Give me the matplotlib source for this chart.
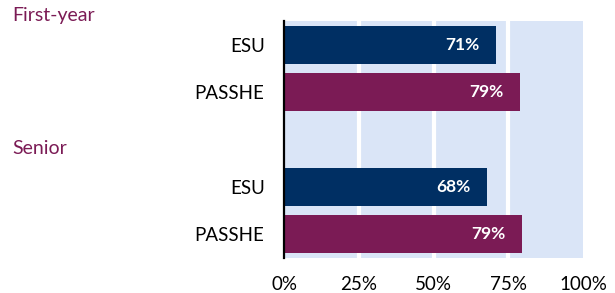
import matplotlib.pyplot as plt

plt.rcParams['font.family'] = ['Lato', 'DejaVu Sans']

# data
groups = ['First-year', 'Senior']
schools = ['ESU', 'PASSHE', 'ESU', 'PASSHE']
values = [71, 79, 68, 79.7]
value_labels = ['71%', '79%', '68%', '79%']
xticks = [0, 25, 50, 75, 100]
xtick_labels = ['0%', '25%', '50%', '75%', '100%']

navy = '#002f63'
maroon = '#7b1b55'
colors = [navy, maroon, navy, maroon]
ypos = [0, 1, 3, 4]

fig = plt.figure(figsize=(6.15, 2.93), dpi=100)
ax = fig.add_axes([284 / 615, 1 - 258 / 293, 299 / 615, 237 / 293])

ax.set_facecolor('#dae5f7')
ax.barh(ypos, values, height=0.8, color=colors, zorder=3)
for x in xticks[1:-1]:
    ax.axvline(x, color='white', lw=3, zorder=2)

for y, v, lab in zip(ypos, values, value_labels):
    ax.text(v - 5.5, y, lab, ha='right', va='center', color='white',
            fontsize=12.5, fontweight='bold', zorder=4)

ax.set_xlim(0, 100)
ax.set_ylim(4.5, -0.5)
ax.set_yticks(ypos)
ax.set_yticklabels(schools, fontsize=13.5)
ax.set_xticks(xticks)
ax.set_xticklabels(xtick_labels, fontsize=13.5)
ax.tick_params(length=0, pad=14, axis='y')
ax.tick_params(length=0, pad=13, axis='x')

for s in ['top', 'right', 'bottom']:
    ax.spines[s].set_visible(False)
ax.spines['left'].set_linewidth(1.6)
ax.spines['left'].set_color('black')
ax.spines['left'].set_zorder(5)

fig.text(12 / 615, 1 - 16 / 293, groups[0], color=maroon, fontsize=14,
         ha='left', va='center')
fig.text(12 / 615, 1 - 148 / 293, groups[1], color=maroon, fontsize=14,
         ha='left', va='center')

fig.savefig('out.png', dpi=100)
